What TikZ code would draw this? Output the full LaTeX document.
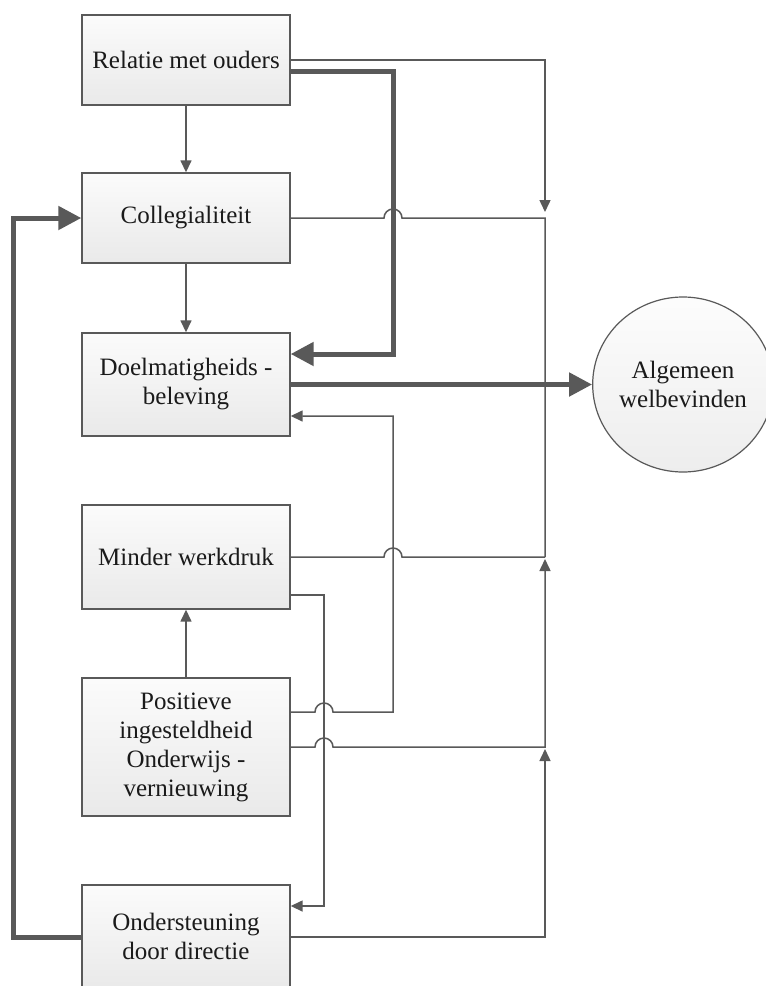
\documentclass[tikz,border=0pt]{standalone}
\usepackage{fontspec}
\setmainfont{Liberation Serif}
\usetikzlibrary{arrows.meta,calc,shapes.geometric}
\definecolor{lnc}{HTML}{595959}
\definecolor{txc}{HTML}{1A1A1A}
\begin{document}
\begin{tikzpicture}[x=1pt,y=-1pt,
  box/.style={draw=lnc,line width=1.4pt,rectangle,minimum width=208pt,
    top color=gray!3,bottom color=gray!17,align=center,text=txc,
    font=\fontsize{25}{29}\selectfont,inner sep=0pt},
  conn/.style={draw=lnc,line width=1.5pt},
  thin tip/.style={-{Triangle[length=12pt,width=11pt]}},
  thickconn/.style={draw=lnc,line width=5pt,-{Triangle[length=23pt,width=23pt]}},
]
\useasboundingbox (0,0) rectangle (766,986);
\clip (0,0) rectangle (766,986);
\fill[white] (0,0) rectangle (766,986);

\node[box,minimum height=90pt]  (b1) at (186,60)    {Relatie met ouders};
\node[box,minimum height=90pt]  (b2) at (186,218)   {Collegialiteit};
\node[box,minimum height=103pt] (b3) at (186,384.5) {Doelmatigheids -\\beleving};
\node[box,minimum height=104pt] (b4) at (186,557)   {Minder werkdruk};
\node[box,minimum height=138pt] (b5) at (186,747)   {Positieve\\ingesteldheid\\Onderwijs -\\vernieuwing};
\node[box,minimum height=103pt] (b6) at (186,936.5) {Ondersteuning\\door directie};
\node[draw=lnc,line width=1.2pt,ellipse,minimum width=164pt,minimum height=175pt,
  top color=gray!2,bottom color=gray!14,align=center,text=txc,
  font=\fontsize{25}{29}\selectfont,inner sep=0pt] (c) at (683,384.5) {Algemeen\\welbevinden};

% vertical straight arrows
\draw[conn,thin tip] (b1.south) -- (b2.north);
\draw[conn,thin tip] (b2.south) -- (b3.north);
\draw[conn,thin tip] (b5.north) -- (b4.south);

% bus lines on the right
\draw[conn,thin tip] (b1.east) -- (545,60) -- (545,212);
\draw[conn] (b2.east) -- (384,218) arc (180:360:9) -- (545,218) -- (545,557);
\draw[conn] (b4.east) -- (384,557) arc (180:360:9) -- (545,557);
\draw[conn,thin tip] ($(b5.east)+(0,0)$) -- (315,747) arc (180:360:9) -- (545,747) -- (545,559);
\draw[conn,thin tip] ($(b6.east)+(0,0.5)$) -- (545,937) -- (545,749);

% feedback lines
\draw[conn,thin tip] ($(b5.east)+(0,-35)$) -- (315,712) arc (180:360:9) -- (393,712) -- (393,416) -- ($(b3.east)+(0,31.5)$);
\draw[conn,thin tip] ($(b4.east)+(0,38)$) -- (324,595) -- (324,906) -- ($(b6.east)+(0,-30.5)$);

% thick lines
\draw[thickconn] ($(b1.east)+(0,11)$) -- (393,71) -- (393,354) -- ($(b3.east)+(0,-30.5)$);
\draw[thickconn] (b3.east) -- (c.west);
\draw[thickconn] ($(b6.west)+(0,0.5)$) -- (13,937) -- (13,218) -- (b2.west);
\end{tikzpicture}
\end{document}
